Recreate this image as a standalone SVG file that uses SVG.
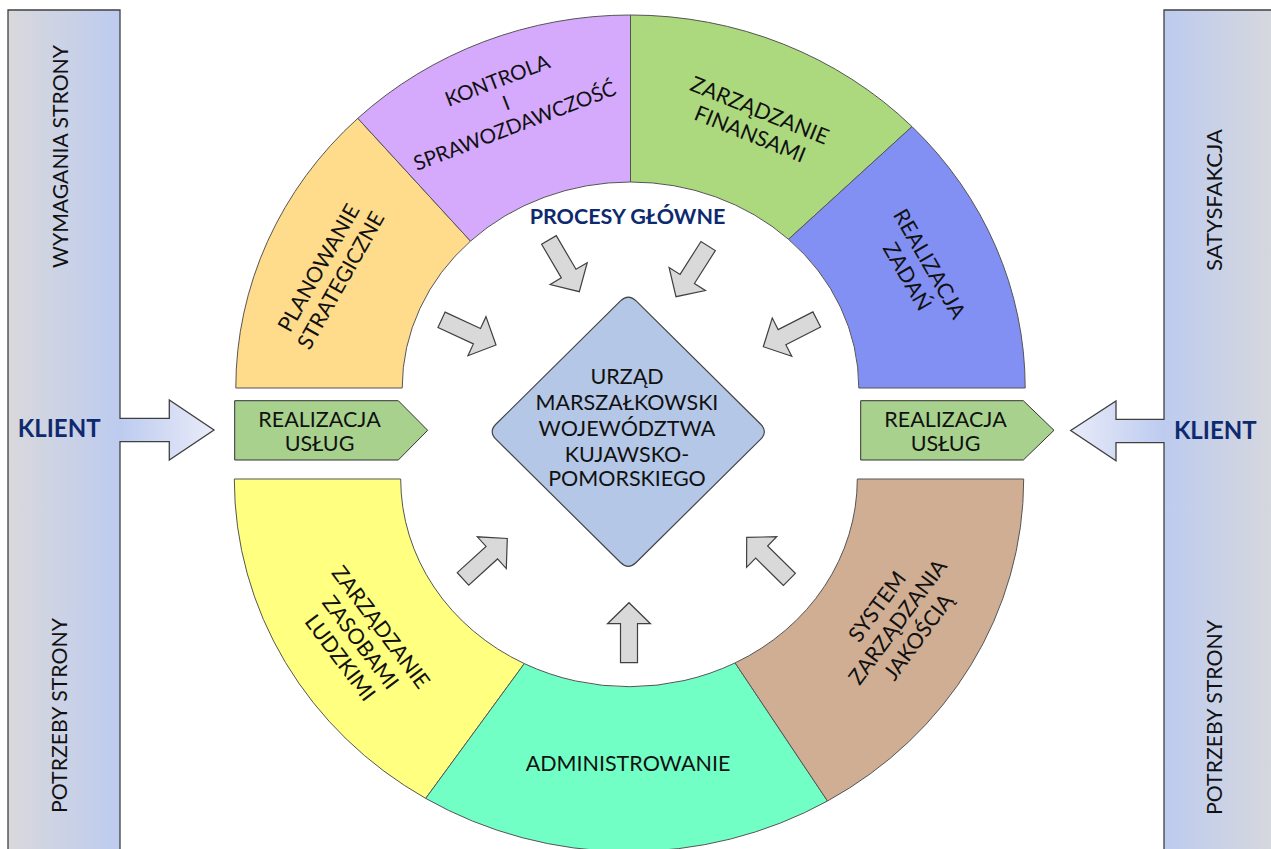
<svg xmlns="http://www.w3.org/2000/svg" width="1271" height="849" viewBox="0 0 1271 849">
<defs>
<linearGradient id="barL" x1="0" y1="0" x2="1" y2="0"><stop offset="0" stop-color="#D9D9DC"/><stop offset="1" stop-color="#BDCBEF"/></linearGradient>
<linearGradient id="barR" x1="1" y1="0" x2="0" y2="0"><stop offset="0" stop-color="#D9D9DC"/><stop offset="1" stop-color="#BDCBEF"/></linearGradient>
<linearGradient id="arrL" gradientUnits="userSpaceOnUse" x1="120" y1="0" x2="214" y2="0"><stop offset="0" stop-color="#BDCBEF"/><stop offset="1" stop-color="#E9ECF9"/></linearGradient>
<linearGradient id="arrR" gradientUnits="userSpaceOnUse" x1="1164" y1="0" x2="1070" y2="0"><stop offset="0" stop-color="#BDCBEF"/><stop offset="1" stop-color="#E9ECF9"/></linearGradient>
<path id="blk" d="M-60,-8.5 L-21,-8.5 L-21,-21.5 L0,0 L-21,21.5 L-21,8.5 L-60,8.5 Z"/>
</defs>
<style>
.seg{stroke:#555;stroke-width:1}
.t{font-family:Lato,"Open Sans","Liberation Sans",sans-serif;font-size:21.5px;fill:#111;text-anchor:middle}
.nav{font-family:Lato,"Open Sans","Liberation Sans",sans-serif;font-weight:bold;fill:#0E2A6E;text-anchor:middle}
.ga{fill:#D9D9D9;stroke:#404040;stroke-width:1.2}
.out{fill:none;stroke:#404040;stroke-width:1.3}
</style>
<rect width="1271" height="849" fill="#fff"/>

<g id="client-left">
<rect x="8" y="10" width="112" height="850" fill="url(#barL)"/>
<path d="M119,418.3 H169.3 V400 L214,430 L169.3,460 V441.7 H119 Z" fill="url(#arrL)"/>
<path class="out" d="M8,860 V10 H120 V418.3 H169.3 V400 L214,430 L169.3,460 V441.7 H120 V860"/>
<text class="t" style="font-size:22px" transform="translate(67.5,156.5) rotate(-90)" textLength="223" lengthAdjust="spacingAndGlyphs">WYMAGANIA STRONY</text>
<text class="t" style="font-size:22px" transform="translate(66.7,715.5) rotate(-90)" textLength="195" lengthAdjust="spacingAndGlyphs">POTRZEBY STRONY</text>
<text class="nav" x="59.2" y="437.3" font-size="24">KLIENT</text>
</g>

<g id="client-right">
<rect x="1164" y="10" width="120" height="850" fill="url(#barR)"/>
<path d="M1165,419.3 H1116 V401 L1070.7,430.5 L1116,460.7 V442.7 H1165 Z" fill="url(#arrR)"/>
<path class="out" d="M1290,10 H1164 V419.3 H1116 V401 L1070.7,430.5 L1116,460.7 V442.7 H1164 V860"/>
<text class="t" style="font-size:22px" transform="translate(1222,200) rotate(-90)" textLength="142" lengthAdjust="spacingAndGlyphs">SATYSFAKCJA</text>
<text class="t" style="font-size:22px" transform="translate(1222,717.5) rotate(-90)" textLength="195" lengthAdjust="spacingAndGlyphs">POTRZEBY STRONY</text>
<text class="nav" x="1215.3" y="439" font-size="24">KLIENT</text>
</g>

<g id="planowanie">
<path class="seg" fill="#FEDC8C" d="M235.8,388 A394.7,373 0 0 1 357.8,118.3 L470.5,241.1 A228.3,206 0 0 0 402.2,388 Z"/>
<g transform="translate(329.5,274) rotate(-60.5)"><text class="t" y="-5">PLANOWANIE</text><text class="t" y="20.5">STRATEGICZNE</text></g>
</g>
<g id="kontrola">
<path class="seg" fill="#D5A9FC" d="M357.8,118.3 A394.7,373 0 0 1 630.5,15 L630.5,182 A228.3,206 0 0 0 470.5,241.1 Z"/>
<g transform="translate(506,103) rotate(-21)" style="font-size:20.5px"><text class="t" style="font-size:20.5px" y="-17">KONTROLA</text><text class="t" style="font-size:20.5px" y="7.3">I</text><text class="t" style="font-size:20.5px" y="31.6">SPRAWOZDAWCZOŚĆ</text></g>
</g>
<g id="finanse">
<path class="seg" fill="#ACD87E" d="M630.5,15 A394.7,373 0 0 1 912,126.6 L788.5,239.3 A228.3,206 0 0 0 630.5,182 Z"/>
<g transform="translate(755,122) rotate(22)"><text class="t" y="-5">ZARZĄDZANIE</text><text class="t" y="20.5">FINANSAMI</text></g>
</g>
<g id="zadania">
<path class="seg" fill="#8290F4" d="M912,126.6 A394.7,373 0 0 1 1025.2,388 L858.8,388 A228.3,206 0 0 0 788.5,239.3 Z"/>
<g transform="translate(918.7,270) rotate(60)"><text class="t" y="-5">REALIZACJA</text><text class="t" y="20.5">ZADAŃ</text></g>
</g>
<g id="zasoby">
<path class="seg" fill="#FFFF80" d="M234.3,479 A394.7,372.6 0 0 0 425.7,798.4 L524.3,663.6 A228.3,207.7 0 0 1 400.7,479 Z"/>
<g transform="translate(360.7,642.3) rotate(53)"><text class="t" y="-17.8">ZARZĄDZANIE</text><text class="t" y="7.7">ZASOBAMI</text><text class="t" y="33.2">LUDZKIMI</text></g>
</g>
<g id="administrowanie">
<path class="seg" fill="#72FFC6" d="M425.7,798.4 A394.7,372.6 0 0 0 827.5,801 L735.1,662.9 A228.3,207.7 0 0 1 524.3,663.6 Z"/>
<text class="t" x="628" y="770.7">ADMINISTROWANIE</text>
</g>
<g id="system">
<path class="seg" fill="#D0AE94" d="M827.5,801 A394.7,372.6 0 0 0 1023.7,479 L857.3,479 A228.3,207.7 0 0 1 735.1,662.9 Z"/>
<g transform="translate(897.5,621.7) rotate(-53.6)"><text class="t" y="-17.8">SYSTEM</text><text class="t" y="7.7">ZARZĄDZANIA</text><text class="t" y="33.2">JAKOŚCIĄ</text></g>
</g>

<g id="uslugi-left">
<path fill="#A9D18E" stroke="#333" stroke-width="1" d="M234.7,400.7 H398.3 L427.7,430.3 L398.3,460 H234.7 Z"/>
<text class="t" x="319.5" y="426.7">REALIZACJA</text><text class="t" x="319.5" y="450.7">USŁUG</text>
</g>
<g id="uslugi-right">
<path fill="#A9D18E" stroke="#333" stroke-width="1" d="M860.7,400.7 H1023.3 L1054,430.3 L1023.3,460 H860.7 Z"/>
<text class="t" x="945.5" y="427.3">REALIZACJA</text><text class="t" x="945.5" y="451">USŁUG</text>
</g>

<g id="procesy">
<text class="nav" x="627.5" y="224.3" font-size="21.5">PROCESY GŁÓWNE</text>
</g>

<g id="urzad">
<path fill="#B4C7E7" stroke="#444" stroke-width="1.2" d="M636.1,300.9 L760.5,424 Q768.3,431.7 760.5,439.4 L636.1,562.5 Q628.3,570.2 620.5,562.5 L496.1,439.4 Q488.3,431.7 496.1,424 L620.5,300.9 Q628.3,293.2 636.1,300.9 Z"/>
<text class="t" x="627" y="384">URZĄD</text>
<text class="t" x="627" y="410">MARSZAŁKOWSKI</text>
<text class="t" x="627" y="435.7">WOJEWÓDZTWA</text>
<text class="t" x="627" y="461.7">KUJAWSKO-</text>
<text class="t" x="627" y="485.7">POMORSKIEGO</text>
</g>

<g id="connectors">
<use href="#blk" class="ga" transform="translate(579.3,291.7) rotate(59.6)"/>
<use href="#blk" class="ga" transform="translate(676,296.7) rotate(122.4)"/>
<use href="#blk" class="ga" transform="translate(496,345) rotate(24.8)"/>
<use href="#blk" class="ga" transform="translate(763.3,346.7) rotate(153)"/>
<use href="#blk" class="ga" transform="translate(507.3,538.5) rotate(-42.4)"/>
<use href="#blk" class="ga" transform="translate(746.7,537.3) rotate(-135.4)"/>
<use href="#blk" class="ga" transform="translate(629,602.7) rotate(-90)"/>
</g>
</svg>
